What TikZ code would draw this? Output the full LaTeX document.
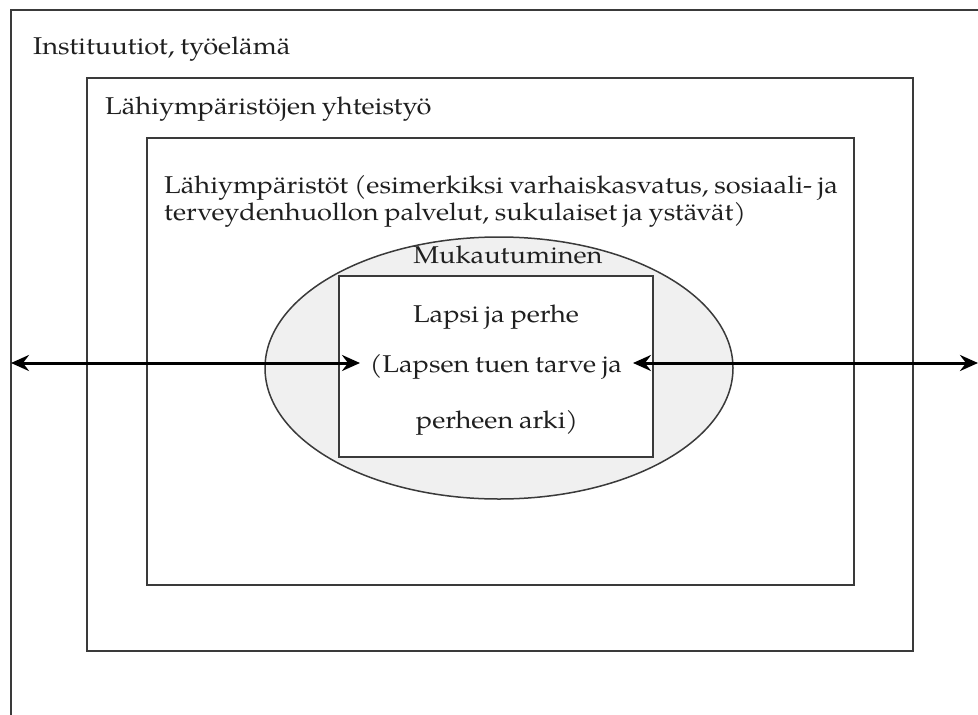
\documentclass[tikz,border=0pt]{standalone}
\usepackage{fontspec}
\setmainfont{TeX Gyre Pagella}[FakeStretch=1.12,WordSpace=0.85]
\usetikzlibrary{arrows.meta,shapes.geometric}
\definecolor{linecol}{HTML}{3A3A3A}
\definecolor{ellfill}{HTML}{F0F0F0}
\begin{document}
\begin{tikzpicture}[x=1pt,y=-1pt,
  box/.style={draw=linecol, line width=2pt, inner sep=0pt, anchor=north west},
  lbl/.style={inner sep=0pt, text=black!88, font=\fontsize{24.3}{30}\selectfont},
  arr/.style={line width=3pt, {Stealth[length=18pt,width=16pt,inset=6pt]}-{Stealth[length=18pt,width=16pt,inset=6pt]}}]
\useasboundingbox (0,0) rectangle (978,715);
\clip (0,0) rectangle (978,715);
% boxes
\node[box, minimum width=1000pt, minimum height=760pt] (inst) at (10,9) {};
\node[box, minimum width=826pt, minimum height=573pt] (yht) at (86,77) {};
\node[box, minimum width=707pt, minimum height=447pt] (lahi) at (146,137) {};
\node[ellipse, draw=linecol, line width=1.5pt, fill=ellfill, minimum width=468pt, minimum height=262pt, inner sep=0pt] (muk) at (499,368) {};
\node[draw=linecol, line width=2pt, fill=white, minimum width=314pt, minimum height=181pt, inner sep=0pt] (lapsi) at (496,366.5) {};
% labels
\node[lbl, anchor=base west] (t1) at (33,54) {Instituutiot, työelämä};
\node[lbl, anchor=base west] (t2) at (105,114) {Lähiympäristöjen yhteistyö};
\node[lbl, anchor=base west] (t3) at (164,193) {Lähiympäristöt (esimerkiksi varhaiskasvatus, sosiaali- ja};
\node[lbl, anchor=base west] (t4) at (164,220) {terveydenhuollon palvelut, sukulaiset ja ystävät)};
\node[lbl, anchor=base] (t5) at (508,263) {Mukautuminen};
\node[lbl, anchor=base] (t6) at (496,322) {Lapsi ja perhe};
\node[lbl, anchor=base] (t7) at (496,372) {(Lapsen tuen tarve ja};
\node[lbl, anchor=base] (t8) at (497,428) {perheen arki)};
% arrows
\coordinate (le) at (11,363);
\coordinate (li) at (360,363);
\coordinate (ri) at (633,363);
\coordinate (re) at (978,363);
\draw[arr] (le) -- (li);
\draw[arr] (ri) -- (re);
\end{tikzpicture}
\end{document}
